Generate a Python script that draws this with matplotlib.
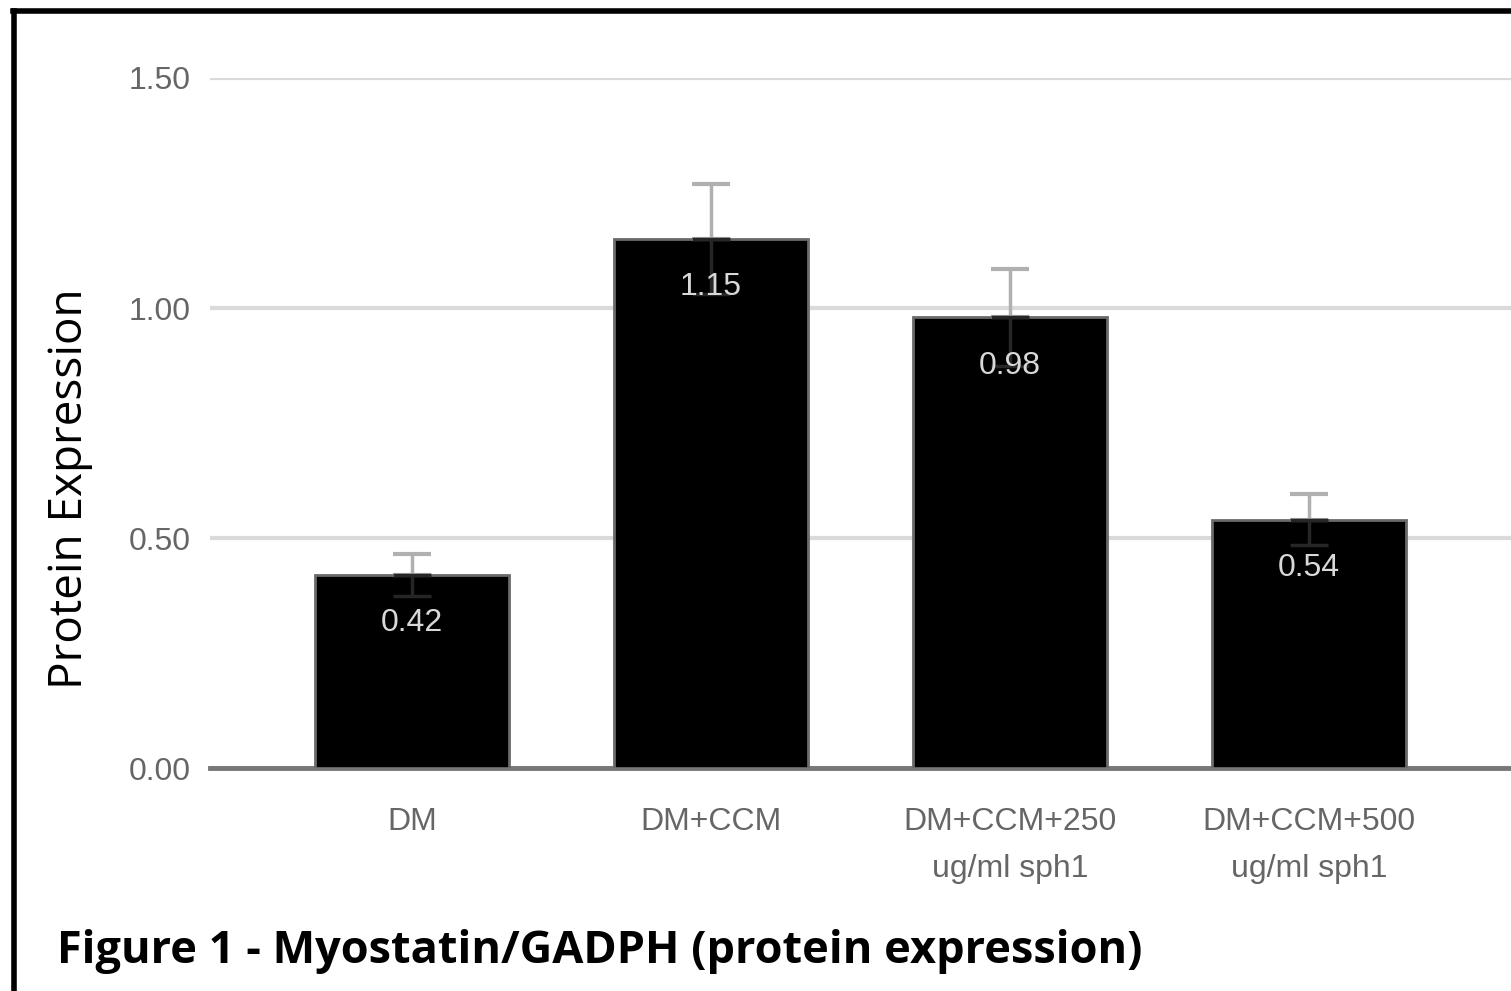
import matplotlib.pyplot as plt
import numpy as np
from matplotlib.lines import Line2D

# data
groups = ['DM', 'DM+CCM', 'DM+CCM+250\nug/ml sph1', 'DM+CCM+500\nug/ml sph1']
expr = [0.42, 1.15, 0.98, 0.54]
err = [0.045, 0.12, 0.105, 0.055]
yticks = [0.0, 0.5, 1.0, 1.5]

fig = plt.figure(figsize=(15.11, 9.91), dpi=100)
ax = fig.add_axes([0.139, 0.225, 0.861, 0.6963])

x = np.arange(len(groups))
ax.bar(x, expr, width=0.65, color='black', edgecolor='#6a6a6a', linewidth=2, zorder=3)

# upper whisker light grey, lower part barely visible inside the bar
ax.errorbar(x, expr, yerr=[np.zeros(4), err], fmt='none', ecolor='#b0b0b0',
            elinewidth=2.5, capsize=14, capthick=3, zorder=4)
ax.errorbar(x, expr, yerr=[err, np.zeros(4)], fmt='none', ecolor='#262626',
            elinewidth=2.5, capsize=14, capthick=2.5, zorder=4)

for xi, v in zip(x, expr):
    ax.text(xi, v - 0.105, f'{v:.2f}', ha='center', va='center', color='#d8d8d8',
            fontsize=23, family='Liberation Sans', zorder=5)

ax.set_xlim(-0.675, 3.676)
ax.set_ylim(0, 1.5)
ax.set_yticks(yticks)
ax.set_yticklabels([f'{t:.2f}' for t in yticks], family='Liberation Sans',
                   fontsize=23, color='#666666')
ax.set_xticks(x)
ax.set_xticklabels(groups, family='Liberation Sans', fontsize=23, color='#666666',
                   linespacing=1.75)
ax.tick_params(axis='y', length=0, pad=14)
ax.tick_params(axis='x', length=0, pad=28)
ax.yaxis.grid(True, color='#dadada', linewidth=3, zorder=0)
ax.set_axisbelow(True)
for s in ['top', 'right', 'left']:
    ax.spines[s].set_visible(False)
ax.spines['bottom'].set_color('#777777')
ax.spines['bottom'].set_linewidth(3.5)
ax.spines['bottom'].set_zorder(2)

fig.text(0.046, 0.507, 'Protein Expression', rotation=90, ha='center', va='center',
         fontsize=33, family='Open Sans', color='black')
fig.text(0.038, 0.04, 'Figure 1 - Myostatin/GADPH (protein expression)',
         ha='left', va='center', fontsize=32.5, fontweight='bold', family='Open Sans',
         color='black')

# frame around figure (left and top only)
fig.add_artist(Line2D([0.0095, 0.0095], [0.0, 0.9885], color='black', linewidth=4,
                      transform=fig.transFigure))
fig.add_artist(Line2D([0.0085, 1.0], [0.9885, 0.9885], color='black', linewidth=4,
                      transform=fig.transFigure))

fig.savefig('out.png', dpi=100)
